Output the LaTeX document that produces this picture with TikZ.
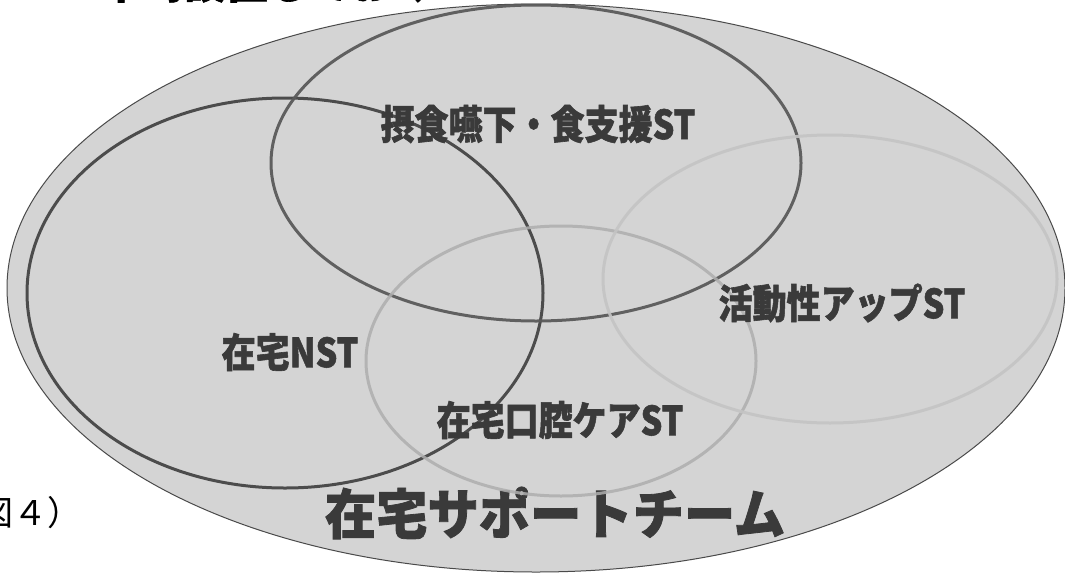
\documentclass[tikz,border=0pt]{standalone}
\usepackage{fontspec}
\newfontfamily\jp[BoldFeatures={FakeBold=1.5}]{Noto Sans CJK JP}
\usetikzlibrary{shapes.geometric}
\definecolor{fillgray}{HTML}{D4D4D4}
\definecolor{edgegray}{HTML}{4A4A4A}
\definecolor{darkring}{HTML}{4C4C4C}
\definecolor{midring}{HTML}{5A5A5A}
\definecolor{lightring}{HTML}{AEAEAE}
\definecolor{paleringc}{HTML}{C4C4C4}
\definecolor{labelgray}{HTML}{3A3A3A}
\tikzset{
  lbl/.style={font=\jp\bfseries, text=labelgray, inner sep=0pt, anchor=center},
  ring/.style={line width=3pt},
}
\begin{document}
\begin{tikzpicture}[x=1pt,y=-1pt]
\useasboundingbox (0,0) rectangle (1065,573);
\clip (0,0) rectangle (1065,573);
% cut-off heading at top
\node[font=\jp\bfseries\fontsize{42}{42}\selectfont, text=black, anchor=base west, inner sep=0pt] (head) at (100,-1.5) {平時設置しておく};
% outer ellipse
\draw[fill=fillgray, draw=edgegray, line width=1pt] (536,288) ellipse [x radius=529, y radius=284];
% team label
\node[lbl, font=\jp\bfseries\fontsize{54}{54}\selectfont, xscale=0.95] (team) at (555,513) {在宅サポートチーム};
% rings
\draw[ring, draw=darkring] (285,293) ellipse [x radius=258, y radius=195];
\draw[ring, draw=midring, opacity=0.95] (536,163) ellipse [x radius=265, y radius=158];
\draw[ring, draw=lightring, opacity=0.85] (561,361) ellipse [x radius=195, y radius=135];
\draw[ring, draw=paleringc, opacity=0.9] (830,279) ellipse [x radius=227, y radius=144];
% labels
\node[lbl, font=\jp\bfseries\fontsize{40}{40}\selectfont, xscale=0.85] (eat) at (538,124) {摂食嚥下・食支援ST};
\node[lbl, font=\jp\bfseries\fontsize{40}{40}\selectfont, xscale=0.85] (nst) at (290,352) {在宅NST};
\node[lbl, font=\jp\bfseries\fontsize{40}{40}\selectfont, xscale=0.85] (act) at (842,303) {活動性アップST};
\node[lbl, font=\jp\bfseries\fontsize{40}{40}\selectfont, xscale=0.85] (oral) at (560,420) {在宅口腔ケアST};
% figure number
\node[font=\jp\fontsize{34}{34}\selectfont, text=black, anchor=west, inner sep=0pt] (fig) at (-21,513) {図４）};
\end{tikzpicture}
\end{document}
